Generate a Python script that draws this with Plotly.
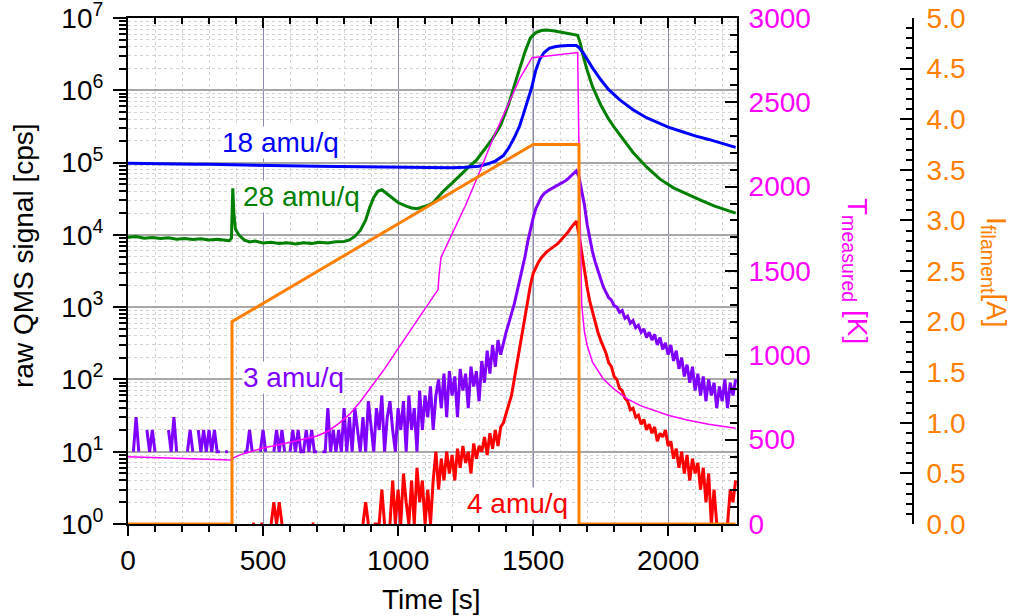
import plotly.graph_objects as go

# ---------------- data ----------------
# 18 amu/q (blue)
t_18 = [0, 50, 100, 150, 200, 250, 300, 350, 400, 450, 500, 550, 600, 650, 700, 750, 800, 850, 900, 950,
        1000, 1050, 1100, 1150, 1200, 1250, 1280, 1300, 1330, 1360, 1390, 1410, 1430, 1450, 1465, 1480,
        1495, 1510, 1525, 1540, 1560, 1580, 1600, 1630, 1660, 1670, 1685, 1700, 1720, 1750, 1780, 1820,
        1870, 1920, 1970, 2000, 2050, 2100, 2150, 2200, 2250]
v_18 = [98000, 97000, 96500, 97000, 95500, 95000, 94500, 93500, 93000, 92000, 91500, 91000, 90000, 89500,
        89000, 88500, 88000, 87500, 87000, 86500, 86000, 85500, 85000, 85500, 85000, 86000,
        87000, 89000, 95000, 105000, 125000, 160000, 220000, 320000, 480000, 750000,
        1100000, 1900000, 2700000, 3300000, 3800000, 4000000, 4100000, 4150000, 4150000, 3890000,
        3310000, 2690000, 2040000, 1410000, 1020000, 741000, 537000, 417000, 347000, 309000,
        269000, 234000, 209000, 184000, 162000]

# 28 amu/q (green)
t_28 = [0, 30, 60, 90, 120, 150, 180, 210, 240, 270, 300, 330, 360, 375, 383, 388, 392, 398, 410, 430,
        450, 470, 500, 530, 560, 590, 620, 650, 680, 710, 740, 770, 800, 820, 840, 860, 880, 895, 910, 925,
        940, 955, 975, 1000, 1030, 1050, 1070, 1090, 1110, 1130, 1150, 1170, 1200, 1230, 1260, 1290, 1320,
        1350, 1380, 1410, 1430, 1450, 1470, 1490, 1510, 1530, 1550, 1580, 1610, 1640, 1665, 1675, 1685,
        1700, 1720, 1750, 1780, 1800, 1830, 1870, 1920, 1970, 2020, 2070, 2120, 2170, 2210, 2250]
v_28 = [9300, 9500, 9000, 9200, 8900, 9100, 8700, 8900, 8600, 8800, 8500, 8700, 8400, 8300, 9000, 44000,
        20000, 12000, 10000, 8500, 8000, 8200, 7700, 7900, 7600, 7800, 7500, 7800, 7600, 7900, 7700, 8000,
        8100, 8500, 9500, 11500, 16000, 24000, 33000, 40000, 42000, 38000, 33000, 28000, 25000, 23500,
        23000, 24000, 25500, 28000, 34000, 41000, 52000, 68000, 86000, 108000, 150000,
        215000, 330000, 650000, 1150000, 2000000, 3400000, 5300000, 6300000, 6700000, 6800000, 6600000,
        6300000, 6000000, 5750000, 4470000, 3020000, 1910000, 1120000, 631000, 398000, 309000, 219000,
        138000, 87000, 59000, 44700, 37200, 30200, 25100, 22400, 20000]

# sampling times of the noisy channels 3 and 4 amu/q [s]
t_grid = list(range(0, 2251, 10))

# 3 amu/q (violet); None = zero counts (not drawable on log axis)
v_3 = [None, None, 10, 30, 10, None, None, 20, 10, 20, 10, None, None, None, None, 20, 10, 30, 10, None,
       None, None, 10, 20, 10, None, 20, 10, 20, 10, 20, 10, 20, 10, 10, None, 10, 10, None,
       None, None, None, None, 10, 10, 20, 10, None, None, 10, 20, 10, None, None, 10, 20, 10, 20, 10,
       None, 10, 20, 10, 20, 10, 10, 20, 10, 20, 10, 10, None, 10, 10, 40, 10, 20, 10, 20,
       10, 40, 10, 30, 10, 40, 20, 10, 30, 10, 50, 20, 10, 40, 20, 60, 10, 30, 50, 20, 10, 40,
       20, 50, 10, 60, 20, 40, 10, 70, 20, 60, 30, 80, 20, 60, 100, 40, 120, 30, 130, 60,
       110, 30, 140, 70, 120, 40, 150, 80, 130, 50,
       180, 90, 250, 120, 300, 150, 350, 220, 320, 450, 600, 800, 1100, 1600, 2300, 3300, 5000, 8000,
       12000, 17000, 23000, 28000, 33000, 37000, 40000, 42000, 44000, 46000, 48000, 50000, 53000, 56000,
       60000, 65000, 70000, 77000,
       63000, 40000, 26000, 14000, 8500, 5800, 4200, 3200, 2500, 1900, 1600, 1350, 1250, 1050, 1000, 850,
       900, 700, 750, 600, 650, 520, 560, 450, 500, 380, 450, 350, 420, 300, 380, 260, 320, 220, 300, 180,
       250, 140, 200, 110, 160, 90, 150, 70, 120, 60, 110, 50, 100, 60, 90, 40, 80, 50, 100, 40, 90, 60, 100]

# 4 amu/q (red)
v_4 = [None] * 45 + [
       None, 1, 1, None, 1, 1, None, None, 1, 2, 1, 2, 1,
       None, None, None, None, None, None, None, None, None, None, 1, 1,
       None, None, None, None, None, None, None, None, None, None, None, None, None, None, None, None, None,
       1, 2, 1, None, 1, 1, 1, 3, 1, None, 1, 4, 1, 3,
       1, 5, 2, 1, 4, 1, 6, 2, 4, 1, 3, 1, 4, 10, 3,
       8, 4, 10, 5, 9, 4, 11, 6, 12, 7, 10, 5, 13, 8, 12, 10, 16, 9, 18, 11, 20, 12, 22,
       25, 35, 45, 60, 100, 170, 270, 500, 800, 1300, 2000, 2900, 3500, 4200, 4800, 5300, 5800, 6200,
       6600, 7000, 7500, 8200, 9000, 10000, 11000, 12500, 14000, 15500,
       10000, 5500, 3200, 1900, 1200, 850, 600, 450, 350, 280, 230, 170, 150, 110, 100, 75, 70, 55, 50,
       38, 40, 30, 32, 24, 28, 20, 24, 18, 22, 14, 18, 16, 20, 12, 14, 8, 11, 6, 10, 5, 9, 4, 8, 5, 7,
       3, 6, 2, 5, 1, 3, 1, None, 2, None, 1, 3, 2, 4]

# measured temperature [K] (magenta)
t_T = [0, 100, 200, 300, 380, 386, 390, 420, 460, 500, 550, 600, 650, 700, 740, 780, 820, 860, 900, 950,
       1000, 1050, 1100, 1148, 1152, 1159, 1200, 1250, 1300, 1350, 1400, 1450, 1496, 1550, 1600, 1665,
       1670, 1675, 1680, 1690, 1700, 1720, 1760, 1800, 1850, 1900, 1950, 2000, 2070, 2150, 2250]
v_T = [398, 392, 387, 383, 379, 380, 392, 413, 433, 450, 467, 483, 502, 522, 550, 595, 650, 725, 810, 920,
       1040, 1160, 1280, 1390, 1480, 1580, 1720, 1890, 2080, 2280, 2460, 2640, 2765, 2775, 2785, 2795,
       2200, 1600, 1300, 1140, 1060, 960, 860, 800, 740, 700, 672, 645, 617, 592, 568]

# filament current [A] (orange)
t_I = [0, 385, 385, 1500, 1670, 1670, 2250]
v_I = [0.0, 0.0, 2.0, 3.75, 3.75, 0.0, 0.0]

# tick definitions
decade_vals = [1, 10, 100, 1e3, 1e4, 1e5, 1e6, 1e7]
decade_text = ["10<sup>0</sup>", "10<sup>1</sup>", "10<sup>2</sup>", "10<sup>3</sup>",
               "10<sup>4</sup>", "10<sup>5</sup>", "10<sup>6</sup>", "10<sup>7</sup>"]
series_labels = ["18 amu/q", "28 amu/q", "3 amu/q", "4 amu/q"]

# ---------------- styling / layout ----------------
FONT = "Arial, Liberation Sans, sans-serif"
W, H = 1014, 616
ML, MR, MT, MB = 128, 14, 18, 92
PW = W - ML - MR
PH = H - MT - MB
x_end = (737 - ML) / PW          # right frame of plot
I_pos = (913 - ML) / PW          # free filament-current axis


def px(xp):
    return (xp - ML) / PW


def py(yp):
    return (H - MB - yp) / PH


BLUE, GREEN, VIOLET, RED = "#0000FF", "#007F00", "#7F00FF", "#FF0000"
MAGENTA, ORANGE = "#FF00FF", "#FF8000"
MINOR_GRID = "#d2d2d2"

minor_log = [m * d for d in decade_vals[:-1] for m in range(2, 10)]

fig = go.Figure()
fig.add_trace(go.Scatter(x=t_grid, y=v_3, mode="lines", line=dict(color=VIOLET, width=3),
                         connectgaps=False, hoverinfo="skip"))
fig.add_trace(go.Scatter(x=t_grid, y=v_4, mode="lines", line=dict(color=RED, width=3),
                         connectgaps=False, hoverinfo="skip"))
fig.add_trace(go.Scatter(x=t_28, y=v_28, mode="lines", line=dict(color=GREEN, width=3), hoverinfo="skip"))
fig.add_trace(go.Scatter(x=t_18, y=v_18, mode="lines", line=dict(color=BLUE, width=3), hoverinfo="skip"))
fig.add_trace(go.Scatter(x=t_T, y=v_T, mode="lines", line=dict(color=MAGENTA, width=1.5),
                         xaxis="x", yaxis="y2", hoverinfo="skip"))
fig.add_trace(go.Scatter(x=t_I, y=v_I, mode="lines", line=dict(color=ORANGE, width=3),
                         xaxis="x2", yaxis="y3", hoverinfo="skip"))

tickfont = dict(family=FONT, size=28, color="black")

fig.update_layout(
    width=W, height=H, margin=dict(l=ML, r=MR, t=MT, b=MB, pad=0, autoexpand=False),
    paper_bgcolor="white", plot_bgcolor="white", showlegend=False,
    font=dict(family=FONT, size=28, color="black"),
    xaxis=dict(domain=[0, x_end], range=[0, 2255], tick0=0, dtick=500, automargin=False,
               ticks="outside", ticklen=10, tickwidth=2, tickcolor="black",
               minor=dict(tick0=0, dtick=100, ticks="outside", ticklen=6, tickwidth=1.5,
                          tickcolor="black", showgrid=True, gridcolor=MINOR_GRID,
                          griddash="dot", gridwidth=1),
               showgrid=True, gridcolor="#8a8ab0", gridwidth=1,
               showline=True, linewidth=2, linecolor="black", zeroline=False,
               tickfont=tickfont, anchor="y", layer="below traces", ticklabeloverflow="allow"),
    xaxis2=dict(overlaying="x", side="top", anchor="y", range=[0, 2255], tick0=0, dtick=500,
                automargin=False,
                ticks="inside", ticklen=10, tickwidth=2, tickcolor="black",
                minor=dict(tick0=0, dtick=100, ticks="inside", ticklen=6, tickwidth=1.5,
                           tickcolor="black", showgrid=False),
                showticklabels=False, showgrid=False, zeroline=False,
                showline=True, linewidth=2, linecolor="black"),
    yaxis=dict(type="log", range=[0, 7], tickmode="array", tickvals=decade_vals, ticktext=decade_text,
               automargin=False, ticklabeloverflow="allow",
               ticks="outside", ticklen=13, tickwidth=2, tickcolor="black",
               minor=dict(tickmode="array", tickvals=minor_log, ticks="outside", ticklen=7,
                          tickwidth=1.5, tickcolor="black", showgrid=True, gridcolor=MINOR_GRID,
                          griddash="dot", gridwidth=1),
               showgrid=True, gridcolor="#a8a8a8", gridwidth=1.5,
               showline=True, linewidth=2, linecolor="black", zeroline=False,
               tickfont=tickfont, ticklabelstandoff=4),
    yaxis2=dict(overlaying="y", side="right", anchor="x", range=[0, 3000], tick0=0, dtick=500,
                automargin=False, ticklabeloverflow="allow",
                ticks="inside", ticklen=12, tickwidth=2, tickcolor="black",
                minor=dict(tick0=0, dtick=100, ticks="inside", ticklen=7, tickwidth=1.5,
                           tickcolor="black", showgrid=False),
                showgrid=False, zeroline=False, showline=True, linewidth=2, linecolor="black",
                tickfont=dict(family=FONT, size=28, color=MAGENTA), ticklabelstandoff=4),
    yaxis3=dict(overlaying="y", side="right", anchor="free", position=I_pos, range=[0, 5],
                tick0=0, dtick=0.5, tickformat=".1f", automargin=False, ticklabeloverflow="allow",
                ticks="inside", ticklen=12, tickwidth=2, tickcolor="black",
                minor=dict(tick0=0, dtick=0.1, ticks="inside", ticklen=6, tickwidth=1.5,
                           tickcolor="black", showgrid=False),
                showgrid=False, zeroline=False, showline=True, linewidth=2, linecolor="black",
                tickfont=dict(family=FONT, size=28, color=ORANGE), ticklabelstandoff=7),
)

# 1500 s gridline appears grey in the reference
fig.add_shape(type="line", xref="x", yref="paper", x0=1500, x1=1500, y0=0, y1=1,
              line=dict(color="#a0a0a0", width=1.5), layer="between")

# series labels
label_specs = [
    (series_labels[0], 563, 5.28, BLUE),
    (series_labels[1], 644, 4.53, GREEN),
    (series_labels[2], 611, 2.03, VIOLET),
    (series_labels[3], 1444, 0.28, RED),
]
for txt, xx, yy, col in label_specs:
    fig.add_annotation(text=txt, x=xx, y=yy, xref="x", yref="y", showarrow=False,
                       xanchor="center", yanchor="middle",
                       font=dict(family=FONT, size=28, color=col), bgcolor="white", borderpad=0)

# axis titles
title_specs = [
    ("raw QMS signal [cps]", 24, 256, -90, "black"),
    ("Time [s]", 431, 599, 0, "black"),
    ("T<sub>measured</sub> [K]", 856, 271, 90, MAGENTA),
    ("I<sub>filament</sub>[A]", 995, 272, 90, ORANGE),
]
for txt, xp, yp, ang, col in title_specs:
    fig.add_annotation(text=txt, x=px(xp), y=py(yp), xref="paper", yref="paper",
                       xanchor="center", yanchor="middle", showarrow=False, textangle=ang,
                       font=dict(family=FONT, size=28, color=col))

fig.write_html("out.html")
